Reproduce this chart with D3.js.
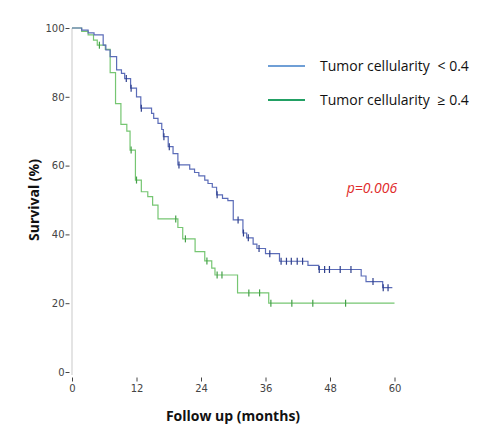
<!DOCTYPE html>
<html>
<head>
<meta charset="utf-8">
<script src="https://cdn.jsdelivr.net/npm/d3@7"></script>
<style>
  html, body { margin: 0; padding: 0; background: #fff; }
  svg { display: block; }
</style>
</head>
<body>
<svg id="chart" width="486" height="440"></svg>
<script>
// ---- data ----
const seriesNames = ["Tumor cellularity", "Tumor cellularity"];
const seriesCuts = ["< 0.4", "\u2265 0.4"];

// Tumor cellularity < 0.4 : step times (months) and survival (%) after each step
const lowTimes = [0, 1.8, 3.0, 4.1, 5.8, 6.3, 7.1, 8.3, 9.2, 9.8, 10.9, 12.0, 12.8, 14.8, 15.2, 16.0, 16.7, 17.0, 17.9, 18.8, 19.7, 21.9, 22.8, 23.6, 24.7, 25.3, 26.1, 26.9, 28.0, 29.0, 30.0, 31.8, 32.5, 33.7, 34.4, 36.0, 38.6, 43.9, 45.9, 53.8, 54.7, 57.8, 59.6];
const lowSurv  = [100, 99.4, 98.6, 98.0, 95.0, 93.6, 91.7, 87.8, 86.8, 85.3, 82.5, 80.0, 76.7, 75.2, 73.7, 72.3, 70.5, 68.4, 65.5, 63.5, 60.2, 59.0, 58.0, 57.0, 55.8, 54.8, 53.7, 51.5, 50.5, 49.8, 44.2, 40.4, 39.0, 37.2, 35.9, 34.4, 32.2, 31.0, 29.8, 27.9, 26.3, 24.5, 24.5];
const lowCensor = [10.1, 11.0, 12.9, 17.1, 18.1, 19.9, 27.0, 30.9, 31.9, 32.8, 34.8, 36.8, 38.9, 39.9, 40.8, 41.9, 42.9, 46.0, 47.0, 47.9, 49.9, 51.9, 56.0, 57.9, 58.8];

// Tumor cellularity >= 0.4
const highTimes = [0, 1.8, 3.0, 4.0, 4.7, 6.2, 7.1, 8.1, 9.1, 10.2, 10.8, 11.8, 12.9, 14.1, 15.0, 16.0, 19.7, 20.6, 22.9, 24.7, 26.0, 26.6, 30.8, 36.6, 60];
const highSurv  = [100, 99.0, 98.0, 96.5, 95.0, 93.8, 87.0, 78.0, 72.0, 70.0, 64.5, 55.8, 52.4, 51.0, 48.5, 44.5, 42.0, 38.7, 35.0, 32.3, 30.2, 28.2, 23.0, 20.0, 20.0];
const highCensor = [5.1, 11.0, 12.0, 19.3, 21.1, 25.1, 27.0, 27.9, 32.9, 34.9, 37.0, 40.9, 44.8, 50.9];

const xTicks = [0, 12, 24, 36, 48, 60];
const yTicks = [0, 20, 40, 60, 80, 100];
const pText = "p=0.006";

// ---- drawing ----
const svg = d3.select("#chart");
const x = d3.scaleLinear().domain([0, 60]).range([72, 394.5]);
const y = d3.scaleLinear().domain([0, 100]).range([372, 28]);

const tickFont = "'DejaVu Sans', sans-serif";

// y axis line
svg.append("line")
  .attr("x1", x(0)).attr("x2", x(0))
  .attr("y1", y(100)).attr("y2", y(0) + 3)
  .attr("stroke", "#c9c9c9").attr("stroke-width", 1);

// y axis ticks
const yAxis = svg.append("g")
  .attr("transform", "translate(69.5,0)")
  .call(d3.axisLeft(y).tickValues(yTicks).tickSize(4).tickSizeOuter(0).tickPadding(1));
yAxis.select(".domain").remove();
yAxis.selectAll(".tick line").attr("stroke", "#444");
yAxis.selectAll("text").attr("font-family", tickFont).attr("font-size", 10).attr("fill", "#444");

// x axis ticks
const xAxis = svg.append("g")
  .attr("transform", "translate(0,377.5)")
  .call(d3.axisBottom(x).tickValues(xTicks).tickSize(4).tickSizeOuter(0).tickPadding(3));
xAxis.select(".domain").remove();
xAxis.selectAll(".tick line").attr("stroke", "#444");
xAxis.selectAll("text").attr("font-family", tickFont).attr("font-size", 10).attr("fill", "#444");

function stepAt(times, surv, t) {
  let v = surv[0];
  for (let i = 0; i < times.length; i++) { if (times[i] <= t) v = surv[i]; }
  return v;
}

const line = d3.line()
  .x(d => x(d[0])).y(d => y(d[1]))
  .curve(d3.curveStepAfter);

const series = [
  { times: highTimes, surv: highSurv, censor: highCensor, color: "#76c672", mark: "#44a048" },
  { times: lowTimes, surv: lowSurv, censor: lowCensor, color: "#5b6cb8", mark: "#2e3f8c" }
];

series.forEach(s => {
  const pts = s.times.map((t, i) => [t, s.surv[i]]);
  svg.append("path")
    .attr("d", line(pts))
    .attr("fill", "none")
    .attr("stroke", s.color)
    .attr("stroke-width", 1.2);
  svg.append("g").selectAll("line")
    .data(s.censor)
    .join("line")
    .attr("x1", d => x(d)).attr("x2", d => x(d))
    .attr("y1", d => y(stepAt(s.times, s.surv, d)) - 3.5)
    .attr("y2", d => y(stepAt(s.times, s.surv, d)) + 3.5)
    .attr("stroke", s.mark)
    .attr("stroke-width", 1.2);
});

// axis titles
svg.append("text")
  .attr("x", 233).attr("y", 421)
  .attr("text-anchor", "middle")
  .attr("font-family", "'Open Sans', sans-serif")
  .attr("font-weight", "bold")
  .attr("font-size", 14)
  .attr("fill", "#111")
  .text("Follow up (months)");

svg.append("text")
  .attr("transform", "translate(39,200) rotate(-90)")
  .attr("text-anchor", "middle")
  .attr("font-family", "'Open Sans', sans-serif")
  .attr("font-weight", "bold")
  .attr("font-size", 14)
  .attr("fill", "#111")
  .text("Survival (%)");

// legend
const legendColors = ["#6f9fd6", "#22a064"];
const legendY = [66, 100];
seriesNames.forEach((name, i) => {
  svg.append("line")
    .attr("x1", 268).attr("x2", 305)
    .attr("y1", legendY[i]).attr("y2", legendY[i])
    .attr("stroke", legendColors[i]).attr("stroke-width", 2);
  const t = svg.append("text")
    .attr("x", 320).attr("y", legendY[i] + 5)
    .attr("font-family", "'Open Sans', sans-serif")
    .attr("font-size", 14)
    .attr("fill", "#111");
  t.append("tspan").text(name + " ");
  t.append("tspan").attr("dx", 4).text(seriesCuts[i]);
});

// p value
svg.append("text")
  .attr("x", 372).attr("y", 193)
  .attr("text-anchor", "middle")
  .attr("font-family", "'Open Sans', sans-serif")
  .attr("font-style", "italic")
  .attr("font-size", 14)
  .attr("fill", "#e02a2a")
  .text(pText);
</script>
</body>
</html>
